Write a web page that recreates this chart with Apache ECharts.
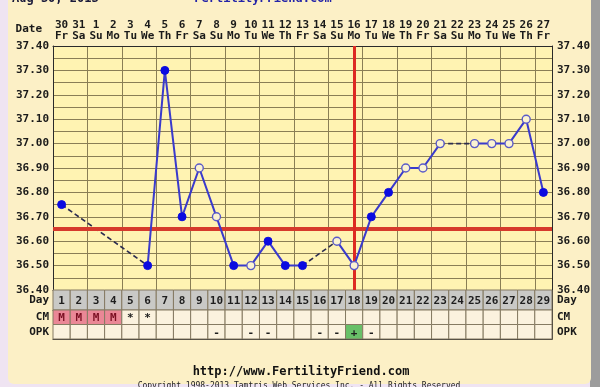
<!DOCTYPE html>
<html><head><meta charset="utf-8">
<script src="https://cdn.jsdelivr.net/npm/echarts@6/dist/echarts.min.js"></script>
<style>html,body{margin:0;padding:0;background:#efe4f2;}#c{width:600px;height:387px;}</style>
</head><body><div id="c"></div>
<script>
const days = ['1','2','3','4','5','6','7','8','9','10','11','12','13','14','15','16','17','18','19','20','21','22','23','24','25','26','27','28','29'];
const dates = ['30','31','1','2','3','4','5','6','7','8','9','10','11','12','13','14','15','16','17','18','19','20','21','22','23','24','25','26','27'];
const weekdays = ['Fr','Sa','Su','Mo','Tu','We','Th','Fr','Sa','Su','Mo','Tu','We','Th','Fr','Sa','Su','Mo','Tu','We','Th','Fr','Sa','Su','Mo','Tu','We','Th','Fr'];
const temps = [36.75,null,null,null,null,36.50,37.30,36.70,36.90,36.70,36.50,36.50,36.60,36.50,36.50,null,36.60,36.50,36.70,36.80,36.90,36.90,37.00,null,37.00,37.00,37.00,37.10,36.80];
const openPoint = [0,0,0,0,0,0,0,0,1,1,0,1,0,0,0,0,1,1,0,0,1,1,1,0,1,1,1,1,0];
const cm = ['M','M','M','M','*','*','','','','','','','','','','','','','','','','','','','','','','',''];
const opk = ['','','','','','','','','','-','','-','-','','','-','-','+','-','','','','','','','','','',''];
const coverline = 36.65;
const ovulationDay = '18';
const yTicks = {min:36.4, max:37.4, step:0.1};

const FONT = '"DejaVu Sans Mono", "Liberation Mono", monospace';
const GRIDC = '#8a7e55';
const chart = echarts.init(document.getElementById('c'), null, {renderer:'canvas'});

const mainData = temps.map((v,i)=> v==null ? null : {
  value: v,
  symbolSize: 8,
  itemStyle: openPoint[i] ? {color:'#fbf3d2', borderColor:'#5a5ac8', borderWidth:1.4} : {color:'#0b0be0', borderColor:'#0b0be0', borderWidth:1}
});

// dashed connectors over missing days
const gapSeries = [];
let last = -1;
temps.forEach((v,i)=>{
  if (v==null) return;
  if (last>=0 && i-last>1) {
    const d = temps.map((t,j)=> (j===last||j===i) ? t : null);
    gapSeries.push({type:'line', xAxisIndex:0, yAxisIndex:0, data:d, connectNulls:true, symbol:'none', silent:true, z:3,
      lineStyle:{color:'#2c2c50', width:1.6, type:[5,3]}});
  }
  last = i;
});

function cellRenderer(texts, bgFn, fgFn){
  return function(params, api){
    const i = params.dataIndex;
    const c = api.coord([api.value(0), api.value(1)]);
    const s = api.size([1,1]);
    return {type:'group', children:[
      {type:'rect', shape:{x:c[0]-s[0]/2, y:c[1]-s[1]/2, width:s[0], height:s[1]},
        style:{fill:bgFn(texts[i]), stroke:'#857a62', lineWidth:1}},
      {type:'text', x:c[0], y:c[1]+1, style:{text:texts[i], fill:fgFn(texts[i]), font:'bold 11px '+FONT, align:'center', verticalAlign:'middle'}}
    ]};
  };
}

const option = {
  animation:false,
  backgroundColor:'transparent',
  graphic:[
    {type:'rect', shape:{x:590, y:0, width:10, height:387}, style:{fill:'#9c9c9c'}, z:-20},
    {type:'rect', shape:{x:8, y:-10, width:583, height:394, r:6}, style:{fill:'#fcf0c6'}, z:-10},
    {type:'text', left:12, top:-7, style:{text:'Aug 30, 2013', font:'bold 12px '+FONT, fill:'#1a1a3a'}},
    {type:'text', x:263, y:-7, style:{text:'FertilityFriend.com', font:'bold 12px '+FONT, fill:'#2424a8', align:'center'}},
    {type:'text', x:42, y:29, style:{text:'Date', font:'bold 11px '+FONT, fill:'#1a1a1a', align:'right', verticalAlign:'middle'}},
    {type:'text', x:301, y:372, style:{text:'http://www.FertilityFriend.com', font:'bold 12px '+FONT, fill:'#111', align:'center', verticalAlign:'middle'}},
    {type:'text', x:299, y:386, style:{text:'Copyright 1998-2013 Tamtris Web Services Inc. - All Rights Reserved', font:'8px '+FONT, fill:'#222', align:'center', verticalAlign:'middle'}}
  ],
  grid:[
    {left:53, right:48, top:46, height:244, show:true, backgroundColor:'#fff3b2', borderWidth:0},
    {left:53, right:48, top:290, height:20, show:false},
    {left:53, right:48, top:310, height:29, show:false}
  ],
  xAxis:[
    {type:'category', gridIndex:0, data:days, boundaryGap:true, position:'bottom',
      axisLine:{show:true, lineStyle:{color:'#2a2a2a', width:1}}, axisTick:{show:false}, axisLabel:{show:false},
      splitLine:{show:true, lineStyle:{color:GRIDC, width:1}}},
    {type:'category', gridIndex:0, data:dates, boundaryGap:true, position:'top',
      axisLine:{show:true, lineStyle:{color:'#2a2a2a', width:1}}, axisTick:{show:false},
      axisLabel:{show:true, interval:0, margin:4, formatter:(v,i)=>v+'\n'+weekdays[i],
        fontFamily:FONT, fontWeight:'bold', fontSize:11, lineHeight:11, color:'#1a1a1a'}},
    {type:'category', gridIndex:1, data:days, boundaryGap:true, axisLine:{show:true, lineStyle:{color:'#2a2a2a'}}, axisTick:{show:false}, axisLabel:{show:false}, splitLine:{show:false}},
    {type:'category', gridIndex:2, data:days, boundaryGap:true, axisLine:{show:true, lineStyle:{color:'#2a2a2a'}}, axisTick:{show:false}, axisLabel:{show:false}, splitLine:{show:false}}
  ],
  yAxis:[
    {type:'value', gridIndex:0, min:yTicks.min, max:yTicks.max, interval:yTicks.step, position:'left',
      axisLine:{show:true, lineStyle:{color:'#2a2a2a'}}, axisTick:{show:false},
      axisLabel:{margin:4, formatter:v=>v.toFixed(2), fontFamily:FONT, fontWeight:'bold', fontSize:11, color:'#1a1a1a'},
      splitLine:{show:true, lineStyle:{color:GRIDC, width:1}},
      minorTick:{show:false, splitNumber:2}, minorSplitLine:{show:true, lineStyle:{color:GRIDC, width:1}}},
    {type:'value', gridIndex:0, min:yTicks.min, max:yTicks.max, interval:yTicks.step, position:'right',
      axisLine:{show:true, lineStyle:{color:'#2a2a2a'}}, axisTick:{show:false},
      axisLabel:{margin:5, formatter:v=>v.toFixed(2), fontFamily:FONT, fontWeight:'bold', fontSize:11, color:'#1a1a1a'},
      splitLine:{show:false}},
    {type:'category', gridIndex:1, data:['Day'], position:'left', axisLine:{show:true, lineStyle:{color:'#2a2a2a'}}, axisTick:{show:false},
      axisLabel:{margin:4, fontFamily:FONT, fontWeight:'bold', fontSize:11, color:'#1a1a1a'}},
    {type:'category', gridIndex:1, data:['Day'], position:'right', axisLine:{show:true, lineStyle:{color:'#2a2a2a'}}, axisTick:{show:false},
      axisLabel:{margin:5, fontFamily:FONT, fontWeight:'bold', fontSize:11, color:'#1a1a1a'}},
    {type:'category', gridIndex:2, data:['CM','OPK'], inverse:true, position:'left', axisLine:{show:true, lineStyle:{color:'#2a2a2a'}}, axisTick:{show:false},
      axisLabel:{margin:4, fontFamily:FONT, fontWeight:'bold', fontSize:11, color:'#1a1a1a'}},
    {type:'category', gridIndex:2, data:['CM','OPK'], inverse:true, position:'right', axisLine:{show:true, lineStyle:{color:'#2a2a2a'}}, axisTick:{show:false},
      axisLabel:{margin:5, fontFamily:FONT, fontWeight:'bold', fontSize:11, color:'#1a1a1a'}}
  ],
  series:[
    {type:'line', xAxisIndex:0, yAxisIndex:0, data:[], silent:true, z:2,
      markLine:{silent:true, symbol:'none', label:{show:false},
        data:[
          {yAxis:coverline, lineStyle:{color:'#d63a2c', width:4, type:'solid'}},
          {xAxis:ovulationDay, lineStyle:{color:'#dd2a22', width:3, type:'solid'}}
        ]}},
    ...gapSeries,
    {type:'line', xAxisIndex:0, yAxisIndex:0, data:mainData, connectNulls:false, symbol:'circle', z:5,
      lineStyle:{color:'#3a3acc', width:2}},
    {type:'custom', xAxisIndex:2, yAxisIndex:2, data:days.map((d,i)=>[i,0]), encode:{x:0,y:1},
      renderItem:cellRenderer(days, ()=> '#c9c9c6', ()=> '#1e1e1e')},
    {type:'custom', xAxisIndex:3, yAxisIndex:4, data:cm.map((d,i)=>[i,0]), encode:{x:0,y:1},
      renderItem:cellRenderer(cm, t=> t==='M' ? '#ea8796' : '#fbf2de', t=> t==='M' ? '#7a0f22' : '#1e1e1e')},
    {type:'custom', xAxisIndex:3, yAxisIndex:4, data:opk.map((d,i)=>[i,1]), encode:{x:0,y:1},
      renderItem:cellRenderer(opk, t=> t==='+' ? '#68c068' : '#fbf2de', ()=> '#1e1e1e')}
  ]
};
chart.setOption(option);
</script></body></html>
